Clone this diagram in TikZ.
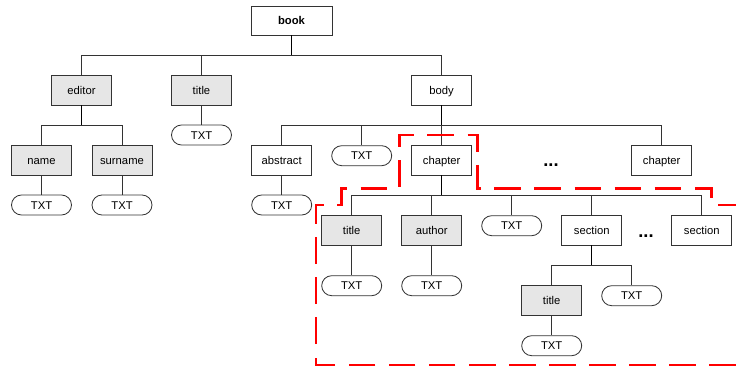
\documentclass[tikz,border=0pt]{standalone}
\usepackage{fontspec}
\setmainfont{Liberation Sans}
\usetikzlibrary{calc}
\definecolor{Edge}{HTML}{333333}
\definecolor{Shade}{HTML}{E6E6E6}
\definecolor{Zone}{HTML}{FF0000}
\tikzset{
  box/.style={draw=Edge,line width=0.6pt,fill=white,inner sep=0pt,minimum width=1.5cm,minimum height=0.75cm,text height=5.8pt,text depth=0pt,font=\fontsize{8}{9.6}\selectfont},
  greybox/.style={box,fill=Shade},
  txt/.style={box,minimum height=0.5cm,rounded corners=0.25cm},
  dots/.style={inner sep=0pt,font=\fontsize{13}{13}\selectfont\bfseries},
  link/.style={draw=Edge,line width=0.5pt},
  stem/.style={draw=black,line width=0.9pt},
  zone/.style={draw=Zone,line width=2.1pt,dash pattern=on 19pt off 9.5pt}
}
\begin{document}
\begin{tikzpicture}[x=0.025cm,y=-0.025cm]
  \useasboundingbox (0,0) rectangle (736,368);
  \node[box,minimum width=2.025cm,minimum height=0.725cm,font=\fontsize{8}{9.6}\selectfont\bfseries] (book) at (291.5,20.5) {book};
  \node[greybox] (editor) at (81.5,90) {editor};
  \node[greybox] (title) at (201.5,90) {title};
  \node[box] (body) at (441.5,90) {body};
  \node[txt] (titletxt) at (201.5,135) {TXT};
  \node[greybox] (name) at (41.5,160) {name};
  \node[greybox] (surname) at (122,160) {surname};
  \node[txt] (nametxt) at (41.5,205) {TXT};
  \node[txt] (surnametxt) at (122,205) {TXT};
  \node[box] (abstract) at (281.7,160) {abstract};
  \node[txt] (bodytxt) at (361.7,155.7) {TXT};
  \node[box] (chapter) at (441.7,160) {chapter};
  \node[dots] (bodydots) at (551,165) {...};
  \node[box] (chapterb) at (661.7,160) {chapter};
  \node[txt] (abstracttxt) at (281.7,205) {TXT};
  \node[greybox] (ctitle) at (351.7,230) {title};
  \node[greybox] (author) at (431.7,230) {author};
  \node[txt] (chaptertxt) at (511.7,225.7) {TXT};
  \node[box] (section) at (591.7,230) {section};
  \node[dots] (chapterdots) at (646,236) {...};
  \node[box] (sectionb) at (701.7,230) {section};
  \node[txt] (ctitletxt) at (351.7,285.7) {TXT};
  \node[txt] (authortxt) at (431.7,285.7) {TXT};
  \node[greybox] (stitle) at (551.7,300.3) {title};
  \node[txt] (sectiontxt) at (631.7,295.7) {TXT};
  \node[txt] (stitletxt) at (551.7,345.7) {TXT};

  \foreach \c in {editor,title,body} \draw[link] (book.south) -- ++(0,20) -| (\c.north);
  \foreach \c in {name,surname} \draw[link] (editor.south) -- ++(0,20) -| (\c.north);
  \foreach \c in {abstract,bodytxt,chapter,chapterb} \draw[link] (body.south) -- ++(0,20) -| (\c.north);
  \foreach \c in {ctitle,author,chaptertxt,section,sectionb} \draw[link] (chapter.south) -- ++(0,20) -| (\c.north);
  \foreach \c in {stitle,sectiontxt} \draw[link] (section.south) -- ++(0,20) -| (\c.north);
  \foreach \p in {book,editor,body,chapter,section} \draw[stem] (\p.south) -- ++(0,20);
  \draw[link] (title) -- (titletxt) (name) -- (nametxt) (surname) -- (surnametxt)
    (abstract) -- (abstracttxt) (ctitle) -- (ctitletxt) (author) -- (authortxt) (stitle) -- (stitletxt);

  \draw[zone] (736,365) -- (316,365) -- (316,205) -- (341.7,205) -- (341.7,188.3) -- (399.3,188.3)
    -- (399.3,135) -- (477.7,135) -- (477.7,188.3) -- (711.7,188.3) -- (711.7,205) -- (736,205);
\end{tikzpicture}
\end{document}
